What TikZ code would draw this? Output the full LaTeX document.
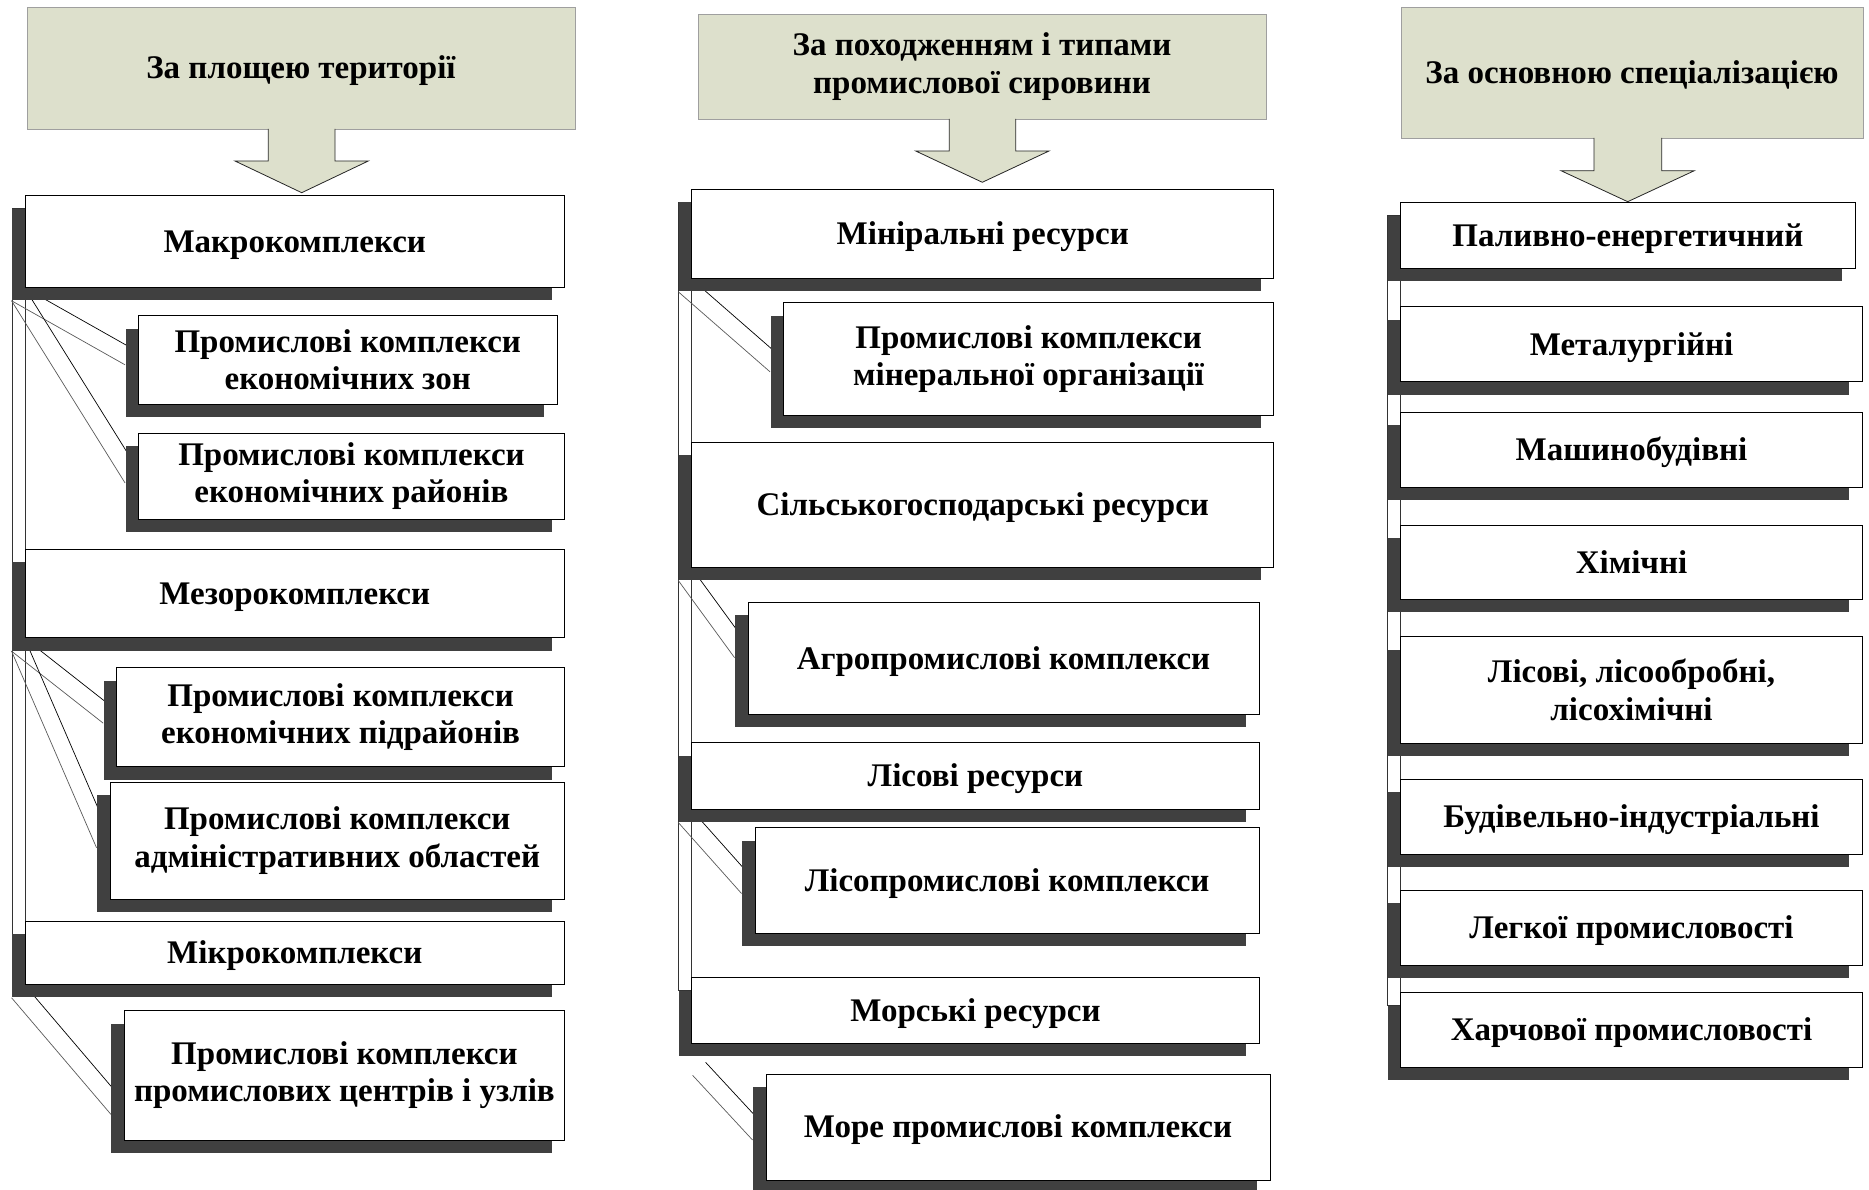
\documentclass[tikz,border=0pt]{standalone}
\usepackage{fontspec}
\setmainfont{Liberation Serif}
\usetikzlibrary{backgrounds,shadows,calc}
\definecolor{hdr}{RGB}{221,224,204}
\definecolor{shd}{RGB}{64,64,64}
\tikzset{
  txt/.style={font=\fontsize{33}{37.5}\selectfont\bfseries},
  one/.style={text height=25pt, text depth=3.2pt},
  bx/.style={draw=black, line width=0.9pt, fill=white, inner sep=0pt, align=center, txt,
    general shadow={fill=shd, shadow xshift=-13pt, shadow yshift=-13pt}},
  hd/.style={draw=gray!75, line width=0.9pt, fill=hdr, inner sep=0pt, align=center, txt},
  sz/.style 2 args={minimum width=#1pt, minimum height=#2pt},
  conn/.style={black, line width=0.7pt},
  connsh/.style={black!65, line width=0.7pt},
  barst/.style={draw=black!80, line width=0.7pt, fill=white},
  harrow/.style={fill=hdr, draw=black!85, line width=0.8pt, line join=miter},
}
\begin{document}
\begin{tikzpicture}[x=1pt,y=-1pt]
\useasboundingbox (0,0) rectangle (1869,1190);

% headers
\node[hd, one, sz={548}{122}] (h1) at (301,68) {За площею території};
\node[hd, sz={568}{105}] (h2) at (982,66.5) {За походженням і типами\\промислової сировини};
\node[hd, one, sz={462}{131}] (h3) at (1632,72.5) {За основною спеціалізацією};

% block arrows
\fill[hdr] (268.3,128) -- (268.3,161) -- (235,161) -- (301.7,192.7) -- (368.3,161) -- (335,161) -- (335,128) -- cycle;
\draw[harrow, fill=none] (268.3,129) -- (268.3,161) -- (235,161) -- (301.7,192.7) -- (368.3,161) -- (335,161) -- (335,129);
\fill[hdr] (949.3,118) -- (949.3,151) -- (915.7,151) -- (982.3,182.3) -- (1049,151) -- (1015.7,151) -- (1015.7,118) -- cycle;
\draw[harrow, fill=none] (949.3,119) -- (949.3,151) -- (915.7,151) -- (982.3,182.3) -- (1049,151) -- (1015.7,151) -- (1015.7,119);
\fill[hdr] (1594,137) -- (1594,170.7) -- (1561,170.7) -- (1627.7,201.7) -- (1694.3,170.7) -- (1661.7,170.7) -- (1661.7,137) -- cycle;
\draw[harrow, fill=none] (1594,138) -- (1594,170.7) -- (1561,170.7) -- (1627.7,201.7) -- (1694.3,170.7) -- (1661.7,170.7) -- (1661.7,138);

% left column
\node[bx, one, sz={539.5}{91.6}] (makro) at (294.75,241.5) {Макрокомплекси};
\node[bx, sz={418.5}{88.3}] (z1) at (347.75,359.85) {Промислові комплекси\\економічних зон};
\node[bx, sz={426}{86}] (z2) at (351.5,476) {Промислові комплекси\\економічних районів};
\node[bx, one, sz={539.5}{88.4}] (mezo) at (294.75,593.5) {Мезорокомплекси};
\node[bx, sz={447.8}{99}] (z3) at (340.6,717.2) {Промислові комплекси\\економічних підрайонів};
\node[bx, sz={454.5}{116.7}] (z4) at (337.25,840.65) {Промислові комплекси\\адміністративних областей};
\node[bx, one, sz={539.5}{63.3}] (mikro) at (294.75,952.65) {Мікрокомплекси};
\node[bx, sz={440.1}{129.3}] (z5) at (344.45,1075.35) {Промислові комплекси\\промислових центрів і узлів};

% middle column
\node[bx, one, sz={582.1}{89}] (min) at (982.75,233.8) {Мініральні ресурси};
\node[bx, sz={490.3}{112.3}] (m1) at (1028.65,358.85) {Промислові комплекси\\мінеральної організації};
\node[bx, one, sz={582.1}{124.7}] (silg) at (982.75,504.65) {Сільськогосподарські ресурси};
\node[bx, one, sz={511}{111.7}] (agro) at (1003.5,658.15) {Агропромислові комплекси};
\node[bx, one, sz={567.5}{66.3}] (lis) at (975.45,775.85) {Лісові ресурси};
\node[bx, one, sz={504.2}{105.6}] (lisp) at (1007.1,880.5) {Лісопромислові комплекси};
\node[bx, one, sz={567.5}{65.6}] (mor) at (975.45,1010.5) {Морські ресурси};
\node[bx, one, sz={504}{106}] (more) at (1018,1127) {Море промислові комплекси};

% right column
\node[bx, one, sz={454.3}{65.6}] (r1) at (1627.85,235.5) {Паливно-енергетичний};
\node[bx, one, sz={461.6}{75}] (r2) at (1631.5,344.2) {Металургійні};
\node[bx, one, sz={461.6}{75}] (r3) at (1631.5,449.8) {Машинобудівні};
\node[bx, one, sz={461.6}{74.3}] (r4) at (1631.5,562.15) {Хімічні};
\node[bx, sz={461.6}{106.6}] (r5) at (1631.5,690) {Лісові, лісообробні,\\лісохімічні};
\node[bx, one, sz={461.6}{74.7}] (r6) at (1631.5,816.65) {Будівельно-індустріальні};
\node[bx, one, sz={461.6}{75}] (r7) at (1631.5,927.5) {Легкої промисловості};
\node[bx, one, sz={461.6}{74.6}] (r8) at (1631.5,1030) {Харчової промисловості};

% connector end points
\coordinate (e1) at ($(z1.north west)!0.41!(z1.south west)$);
\coordinate (e2) at ($(z2.north west)!0.43!(z2.south west)$);
\coordinate (e3) at ($(z3.north west)!0.43!(z3.south west)$);
\coordinate (e4) at ($(z4.north west)!0.45!(z4.south west)$);
\coordinate (e5) at ($(z5.north west)!0.70!(z5.south west)$);
\coordinate (f1) at ($(m1.north west)!0.50!(m1.south west)$);
\coordinate (f2) at ($(agro.north west)!0.38!(agro.south west)$);
\coordinate (f3) at ($(lisp.north west)!0.50!(lisp.south west)$);
\coordinate (f4) at ($(more.north west)!0.50!(more.south west)$);
\coordinate (ms) at (705.6,1062.3);

\begin{scope}[on background layer]
  \draw[barst] (12.5,208) rectangle (25,934);
  \draw[barst] (678,202.7) rectangle (691.7,990);
  \draw[barst] (1387.3,215) rectangle (1400.7,1005);
  \foreach \p/\e in {makro/e1, makro/e2, mezo/e3, mezo/e4, mikro/e5, min/f1, silg/f2, lis/f3} {
    \draw[conn] (\p.south west) -- (\e);
    \draw[connsh] ([shift={(-13,13)}]\p.south west) -- ([shift={(-13,13)}]\e);
  }
  \draw[conn] (ms) -- (f4);
  \draw[connsh] ([shift={(-13,13)}]ms) -- ([shift={(-13,13)}]f4);
\end{scope}
\end{tikzpicture}
\end{document}
